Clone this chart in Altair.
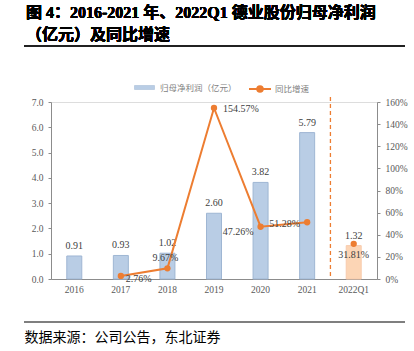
import altair as alt
import pandas as pd

categories = ["2016", "2017", "2018", "2019", "2020", "2021", "2022Q1"]
profit = [0.91, 0.93, 1.02, 2.60, 3.82, 5.79, 1.32]
growth = [None, 2.76, 9.67, 154.57, 47.26, 51.28, 31.81]
profit_labels = ["0.91", "0.93", "1.02", "2.60", "3.82", "5.79", "1.32"]
growth_labels = ["", "2.76%", "9.67%", "154.57%", "47.26%", "51.28%", "31.81%"]
bar_series = "归母净利润（亿元）"
line_series = "同比增速"
q1_key = "2022Q1"
title_lines = ["图 4：2016-2021 年、2022Q1 德业股份归母净利润", "（亿元）及同比增速"]
footer = "数据来源：公司公告，东北证券"

df = pd.DataFrame({
    "cat": categories,
    "profit": profit,
    "growth": growth,
    "plabel": profit_labels,
    "glabel": growth_labels,
})
df["kind"] = [bar_series] * 6 + [q1_key]
df["line"] = line_series

BLUE = "#B9CDE5"
PEACH = "#FCD5B5"
ORANGE = "#ED7D31"
NUM_FONT = "Liberation Serif"
CJK_FONT = "Noto Sans CJK SC"
TITLE_FONT = "Liberation Serif, Noto Sans CJK SC"

W, H = 326, 177

base = alt.Chart(df)

x_axis = alt.Axis(
    title=footer, titleAnchor="start", titleAlign="left", titleBaseline="middle",
    titleX=-27, titleY=58, titleFont=CJK_FONT, titleFontSize=14,
    titleFontWeight="normal", titleColor="#000000",
    labelAngle=0, labelFont=NUM_FONT, labelFontSize=9.5, labelColor="#595959",
    labelPadding=5, ticks=False, domainColor="#8C8C8C", domainWidth=1.2, grid=False,
)
x_scale = alt.Scale(domain=categories, paddingInner=0, paddingOuter=0)
x_enc = alt.X("cat:N", sort=categories, scale=x_scale, axis=x_axis)

y_left = alt.Y("profit:Q", scale=alt.Scale(domain=[0, 7], nice=False),
               axis=alt.Axis(orient="left", values=list(range(8)), format=".1f", title=None,
                             grid=False, domainColor="#8C8C8C", tickColor="#8C8C8C",
                             tickSize=3, labelFont=NUM_FONT, labelFontSize=9.5,
                             labelColor="#595959", labelPadding=5))

fill_enc = alt.Fill("kind:N",
                    scale=alt.Scale(domain=[bar_series, q1_key], range=[BLUE, PEACH]),
                    legend=alt.Legend(values=[bar_series], title=None, orient="none",
                                      legendX=83, legendY=-25, padding=0,
                                      symbolType="M-1,-0.2H1V0.2H-1Z", symbolSize=400,
                                      symbolStrokeColor="#9FB6D3", symbolStrokeWidth=0.5,
                                      labelFont=CJK_FONT, labelFontSize=8.5,
                                      labelColor="#7F7F7F", labelOffset=5))

bars_annual = base.transform_filter(alt.datum.kind == bar_series).mark_bar(
    size=15, stroke="#9FB6D3", strokeWidth=1).encode(x=x_enc, y=y_left, fill=fill_enc)
bars_q1 = base.transform_filter(alt.datum.kind == q1_key).mark_bar(
    size=15, stroke="#F8CBAD", strokeWidth=1).encode(x=x_enc, y=y_left, fill=fill_enc)
bar_text = base.mark_text(baseline="bottom", dy=-5, font=NUM_FONT, fontSize=10,
                          color="#404040").encode(x=x_enc, y=y_left, text="plabel:N")

divider = base.transform_filter(alt.datum.cat == q1_key).mark_rule(
    color=ORANGE, strokeDash=[4, 3], strokeWidth=1.3).encode(
    x=alt.X("cat:N", sort=categories, scale=x_scale, axis=x_axis, bandPosition=0),
    y=alt.value(-5), y2=alt.value(176))

title_rule = base.mark_rule(color="#222222", strokeWidth=1.3).encode(
    x=alt.value(-27), x2=alt.value(354), y=alt.value(-56))
footer_rule = base.mark_rule(color="#7F7F7F", strokeWidth=1.3).encode(
    x=alt.value(-27), x2=alt.value(354), y=alt.value(220))
title_text = base.mark_text(align="left", baseline="alphabetic", font=TITLE_FONT,
                            fontSize=16, fontWeight="bold", lineHeight=22,
                            color="#000000").encode(
    x=alt.value(-25), y=alt.value(-84), text=alt.value(title_lines))

left = alt.layer(bars_annual, bars_q1, bar_text, divider, title_rule, footer_rule, title_text)

y_right = alt.Y("growth:Q", scale=alt.Scale(domain=[0, 160], nice=False),
                axis=alt.Axis(orient="right", values=list(range(0, 161, 20)), title=None,
                              labelExpr="datum.value + '%'", grid=False,
                              domainColor="#8C8C8C", tickColor="#8C8C8C", tickSize=3,
                              labelFont=NUM_FONT, labelFontSize=9.5,
                              labelColor="#595959", labelPadding=5))

annual_growth = base.transform_filter(
    (alt.datum.kind == bar_series) & (alt.datum.growth != None))

line = annual_growth.mark_line(strokeWidth=2).encode(
    x=x_enc, y=y_right,
    stroke=alt.Stroke("line:N", scale=alt.Scale(domain=[line_series], range=[ORANGE]),
                      legend=alt.Legend(title=None, orient="none", legendX=197, legendY=-25,
                                        padding=0,
                                        symbolType="M-1,0H1M0.25,0A0.25,0.25,0,1,1,-0.25,0A0.25,0.25,0,1,1,0.25,0",
                                        symbolSize=484, symbolStrokeWidth=2,
                                        symbolFillColor=ORANGE,
                                        labelFont=CJK_FONT, labelFontSize=8.5,
                                        labelColor="#7F7F7F", labelOffset=3)))
points = base.transform_filter(alt.datum.growth != None).mark_point(
    filled=True, size=40, color=ORANGE, opacity=1).encode(x=x_enc, y=y_right)


def glabel(cat, align, dx, dy):
    return base.transform_filter(alt.datum.cat == cat).mark_text(
        align=align, baseline="middle", dx=dx, dy=dy, font=NUM_FONT, fontSize=10,
        color="#404040").encode(x=x_enc, y=y_right, text="glabel:N")


labels = [
    glabel("2017", "left", 5, 3),
    glabel("2018", "center", -2, -10),
    glabel("2019", "left", 9, 1),
    glabel("2020", "right", -7, 5),
    glabel("2021", "right", -7, 2),
    glabel("2022Q1", "center", 0, 11),
]

right = alt.layer(line, points, *labels)

chart = alt.layer(left, right).resolve_scale(
    y="independent").properties(
    width=W, height=H,
    autosize=alt.AutoSizeParams(type="none"),
    padding={"left": 51, "top": 102, "right": 37, "bottom": 72},
).configure_view(stroke=None).configure(background="white")

chart.save("out.html", embed_options={"renderer": "svg", "actions": False})
